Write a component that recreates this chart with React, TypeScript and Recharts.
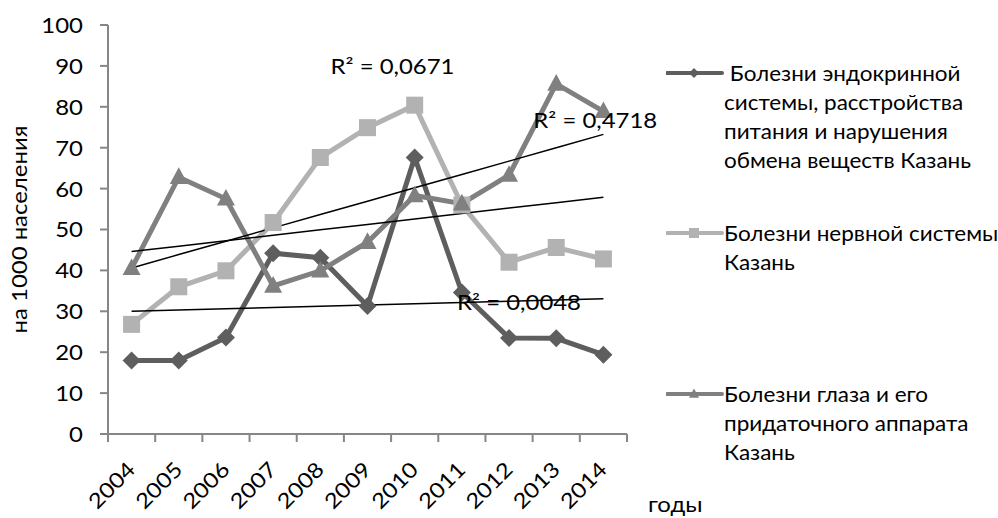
import React from "react"
import { ComposedChart, Line, XAxis, YAxis, ReferenceDot } from "recharts"

// years on the category axis
const years = ["2004", "2005", "2006", "2007", "2008", "2009", "2010", "2011", "2012", "2013", "2014"]

// values per 1000 population
const endocrine = [18, 18, 23.6, 44.2, 43.1, 31.3, 67.6, 34.6, 23.5, 23.4, 19.4]
const nervous = [26.8, 36, 39.9, 51.7, 67.6, 74.9, 80.4, 56, 42, 45.6, 42.8]
const eye = [40.5, 62.8, 57.5, 36.2, 39.9, 46.9, 58.3, 56.3, 63.3, 85.6, 78.9]

const yTicks = [0, 10, 20, 30, 40, 50, 60, 70, 80, 90, 100]

const legendNames = [
  [" Болезни эндокринной", "системы, расстройства", "питания и нарушения", "обмена веществ Казань"],
  ["Болезни нервной системы", "Казань"],
  ["Болезни глаза и его", "придаточного аппарата", "Казань"],
]

// R² labels: [text, year, y value, x shift]
const r2Labels: [string, string, number, number][] = [
  ["R² = 0,0671", "2009", 90, 25],
  ["R² = 0,4718", "2013", 76.7, 39],
  ["R² = 0,0048", "2012", 32.3, 10],
]

const FONT = "Lato, 'Open Sans', sans-serif"
const FS = 21
const SX = 1.14 // the original font is wider than Lato
const LEGEND_SX = 1.07
const AXIS = "#868686"
const C_ENDO = "#5e5e5e"
const C_NERV = "#b2b2b2"
const C_EYE = "#808080"

const PLOT_LEFT = 108
const PLOT_RIGHT = 627
const BAND = (PLOT_RIGHT - PLOT_LEFT) / years.length

// least squares line through a series, evaluated at every year
function trend(vals: number[]) {
  const n = vals.length
  const mx = (n - 1) / 2
  const my = vals.reduce((a, b) => a + b, 0) / n
  let sxy = 0
  let sxx = 0
  vals.forEach((v, i) => {
    sxy += (i - mx) * (v - my)
    sxx += (i - mx) * (i - mx)
  })
  const k = sxy / sxx
  return vals.map((_, i) => my + k * (i - mx))
}

const endoTrend = trend(endocrine)
const nervTrend = trend(nervous)
const eyeTrend = trend(eye)

const data = years.map((year, i) => ({
  year,
  endocrine: endocrine[i],
  nervous: nervous[i],
  eye: eye[i],
  endoTrend: endoTrend[i],
  nervTrend: nervTrend[i],
  eyeTrend: eyeTrend[i],
}))

function SText({ x, y, angle = 0, anchor = "start", baseline = "auto", children }: any) {
  return (
    <text
      transform={`translate(${x},${y}) rotate(${angle}) scale(${SX},1)`}
      textAnchor={anchor}
      dominantBaseline={baseline}
      fontSize={FS}
      fontFamily={FONT}
      fill="#000"
    >
      {children}
    </text>
  )
}

function Diamond({ cx, cy, r, fill }: any) {
  return <polygon points={`${cx},${cy - r} ${cx + r},${cy} ${cx},${cy + r} ${cx - r},${cy}`} fill={fill} />
}

function Square({ cx, cy, r, fill }: any) {
  return <rect x={cx - r} y={cy - r} width={r * 2} height={r * 2} fill={fill} />
}

function Triangle({ cx, cy, r, fill }: any) {
  return <polygon points={`${cx},${cy - r * 1.1} ${cx + r},${cy + r * 0.75} ${cx - r},${cy + r * 0.75}`} fill={fill} />
}

function XTick(props: any) {
  const { x, y, payload, index } = props
  const left = x - BAND / 2
  return (
    <g>
      <line x1={left} y1={y} x2={left} y2={y + 8} stroke={AXIS} strokeWidth={2} />
      {index === years.length - 1 && (
        <line x1={x + BAND / 2} y1={y} x2={x + BAND / 2} y2={y + 8} stroke={AXIS} strokeWidth={2} />
      )}
      <SText x={x + 5} y={y + 37} angle={-45} anchor="end">
        {payload.value}
      </SText>
    </g>
  )
}

function YTick(props: any) {
  const { x, y, payload } = props
  return (
    <SText x={x} y={y} anchor="end" baseline="central">
      {payload.value}
    </SText>
  )
}

function YLabel({ viewBox }: any) {
  return (
    <SText x={viewBox.x + 19} y={viewBox.y + viewBox.height / 2} angle={-90} anchor="middle" baseline="central">
      на 1000 населения
    </SText>
  )
}

function XLabel({ viewBox }: any) {
  return (
    <SText x={viewBox.x + viewBox.width + 21} y={viewBox.y + 78}>
      годы
    </SText>
  )
}

function R2Label({ viewBox, value, shift }: any) {
  return (
    <SText x={viewBox.x + shift} y={viewBox.y} anchor="middle" baseline="central">
      {value}
    </SText>
  )
}

function LegendBox() {
  const colors = [C_ENDO, C_NERV, C_EYE]
  const shapes = [Diamond, Square, Triangle]
  const tops = [58, 218, 379]
  return (
    <>
      {legendNames.map((lines, i) => {
        const Shape = shapes[i]
        return (
          <div key={i} style={{ position: "absolute", left: 666, top: tops[i], width: 332, display: "flex" }}>
            <svg width={58} height={29} style={{ flexShrink: 0 }}>
              <line x1={1} y1={15} x2={56} y2={15} stroke={colors[i]} strokeWidth={4} strokeLinecap="round" />
              <Shape cx={28} cy={15} r={5} fill={colors[i]} />
            </svg>
            <div
              style={{
                fontFamily: FONT,
                fontSize: FS,
                lineHeight: "29px",
                color: "#000",
                whiteSpace: "pre",
                transform: `scaleX(${LEGEND_SX})`,
                transformOrigin: "left top",
              }}
            >
              {lines.map((t, j) => (
                <div key={j}>{t}</div>
              ))}
            </div>
          </div>
        )
      })}
    </>
  )
}

export default function App() {
  return (
    <div style={{ position: "absolute", left: 0, top: 0, width: 998, height: 518, background: "#fff", overflow: "hidden" }}>
      <ComposedChart width={998} height={518} data={data} margin={{ top: 25, right: 371, bottom: 0, left: 0 }}>
        <XAxis
          dataKey="year"
          scale="band"
          height={84}
          axisLine={{ stroke: AXIS, strokeWidth: 2 }}
          tickLine={false}
          tickSize={0}
          tickMargin={0}
          tick={<XTick />}
          interval={0}
          label={<XLabel />}
        />
        <YAxis
          domain={[0, 100]}
          ticks={yTicks}
          width={108}
          axisLine={{ stroke: AXIS, strokeWidth: 2 }}
          tickLine={{ stroke: AXIS, strokeWidth: 2 }}
          tickSize={8}
          tickMargin={17}
          tick={<YTick />}
          label={<YLabel />}
        />
        <Line
          dataKey="endocrine"
          type="linear"
          stroke={C_ENDO}
          strokeWidth={5}
          dot={(p: any) => <Diamond key={p.index} cx={p.cx} cy={p.cy} r={9} fill={C_ENDO} />}
          activeDot={false}
          isAnimationActive={false}
        />
        <Line
          dataKey="nervous"
          type="linear"
          stroke={C_NERV}
          strokeWidth={5}
          dot={(p: any) => <Square key={p.index} cx={p.cx} cy={p.cy} r={8.5} fill={C_NERV} />}
          activeDot={false}
          isAnimationActive={false}
        />
        <Line
          dataKey="eye"
          type="linear"
          stroke={C_EYE}
          strokeWidth={5}
          dot={(p: any) => <Triangle key={p.index} cx={p.cx} cy={p.cy} r={9} fill={C_EYE} />}
          activeDot={false}
          isAnimationActive={false}
        />
        <Line dataKey="endoTrend" type="linear" stroke="#000" strokeWidth={1.5} dot={false} activeDot={false} isAnimationActive={false} />
        <Line dataKey="nervTrend" type="linear" stroke="#000" strokeWidth={1.5} dot={false} activeDot={false} isAnimationActive={false} />
        <Line dataKey="eyeTrend" type="linear" stroke="#000" strokeWidth={1.5} dot={false} activeDot={false} isAnimationActive={false} />
        {r2Labels.map(([text, year, y, shift]) => (
          <ReferenceDot
            key={text}
            x={year}
            y={y}
            r={0}
            fill="none"
            stroke="none"
            label={<R2Label value={text} shift={shift} />}
          />
        ))}
      </ComposedChart>
      <LegendBox />
    </div>
  )
}
